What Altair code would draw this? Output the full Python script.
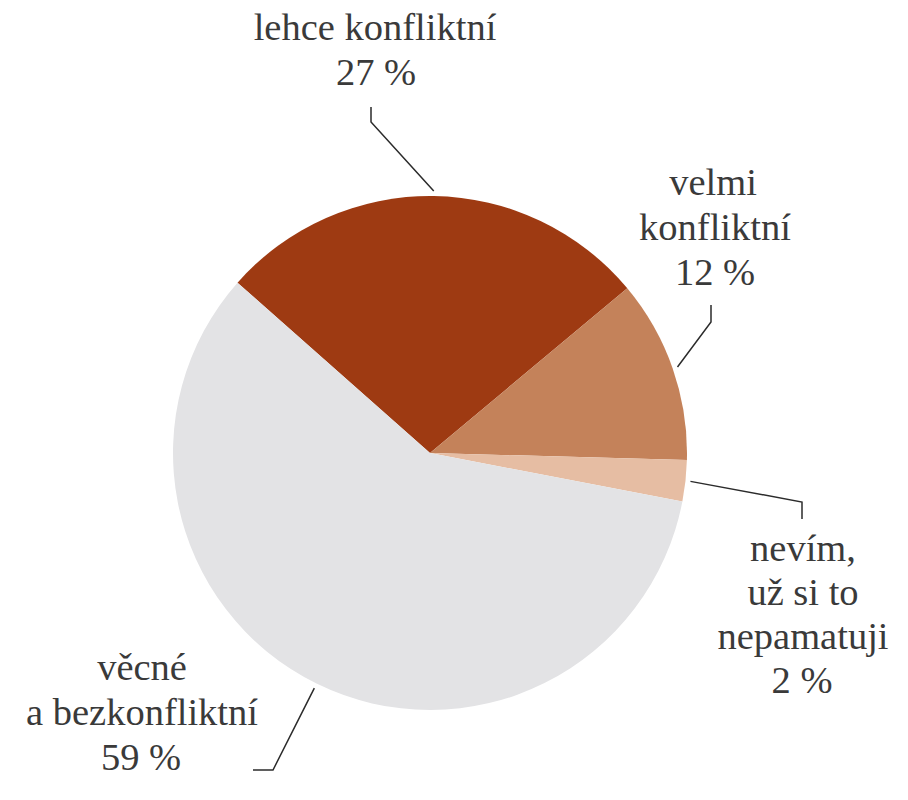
import math
import altair as alt
import pandas as pd

# ---- data ----
categories = ["lehce konfliktní", "velmi konfliktní",
              "nevím, už si to nepamatuji", "věcné a bezkonfliktní"]
shares = [27.4, 11.5, 2.6, 58.5]          # slice sizes
pct_labels = ["27 %", "12 %", "2 %", "59 %"]
name_lines = [["lehce konfliktní"],
              ["velmi", "konfliktní"],
              ["nevím,", "už si to", "nepamatuji"],
              ["věcné", "a bezkonfliktní"]]
colors = ["#9E3A12", "#C4825A", "#E6BDA3", "#E3E3E5"]

FONT = "Liberation Serif"

# ---- layout (annotation geometry, in page pixels minus the 8px margin) ----
W, H = 892, 784
PAD_TOP = 12
CX, CY, R = 422, 445, 257
START_DEG = -48.5
# label line centres / baselines
line_x = [[367, 368], [705, 707, 707], [795, 795, 795, 794], [134, 134, 133]]
line_y = [[32, 77], [187, 232, 277], [553, 597, 641, 685], [672, 717, 762]]
# leader elbows and ends
elbow = [(363, 114), (703, 314), (794, 494), (265, 762)]
tail = [(363, 99), (703, 297), (794, 511), (245, 762)]

slices = pd.DataFrame({"cat": categories, "share": shares, "seq": range(len(categories))})

# leader lines start at the slice's outer edge, at its middle angle
lead_rows = []
cum = 0.0
total = sum(shares)
for i, s in enumerate(shares):
    mid = math.radians(START_DEG + (cum + s / 2) / total * 360)
    cum += s
    sx = CX + (R + 5) * math.sin(mid)
    sy = CY - (R + 5) * math.cos(mid)
    pts = [(sx, sy), elbow[i], tail[i]]
    for j, (px, py) in enumerate(pts):
        lead_rows.append({"cat": categories[i], "pt": j, "x": px, "y": py})
leads = pd.DataFrame(lead_rows)

text_rows = []
for i, lines in enumerate(name_lines):
    full = lines + [pct_labels[i]]
    for j, t in enumerate(full):
        text_rows.append({"cat": categories[i], "t": t, "x": line_x[i][j], "y": line_y[i][j]})
texts = pd.DataFrame(text_rows)

PH = H - PAD_TOP
xs = alt.Scale(domain=[0, W], range=[0, W])
ys = alt.Scale(domain=[PAD_TOP, H], range=[0, PH])
s0 = math.radians(START_DEG)

arcs = alt.Chart(slices).mark_arc(radius=R).encode(
    theta=alt.Theta("share:Q", stack=True, scale=alt.Scale(range=[s0, s0 + 2 * math.pi])),
    color=alt.Color("cat:N", scale=alt.Scale(domain=categories, range=colors), legend=None),
    order=alt.Order("seq:Q"),
    x=alt.value(CX),
    y=alt.value(CY - PAD_TOP),
)

lines = alt.Chart(leads).mark_line(color="#2b2b2b", strokeWidth=1.5).encode(
    x=alt.X("x:Q", scale=xs, axis=None),
    y=alt.Y("y:Q", scale=ys, axis=None),
    detail="cat:N",
    order="pt:Q",
)

labels = alt.Chart(texts).mark_text(
    font=FONT, fontSize=38.5, color="#3a3a3a",
    align="center", baseline="alphabetic",
).encode(
    x=alt.X("x:Q", scale=xs, axis=None),
    y=alt.Y("y:Q", scale=ys, axis=None),
    text="t:N",
)

chart = alt.layer(arcs, lines, labels).properties(
    width=W, height=PH,
    padding={"top": PAD_TOP, "left": 0, "right": 0, "bottom": 0},
    autosize=alt.AutoSizeParams(type="none"),
    background="white",
).configure(font=FONT).configure_text(font=FONT).configure_view(stroke=None)

chart.save("out.html", embed_options={"renderer": "svg", "actions": False})
